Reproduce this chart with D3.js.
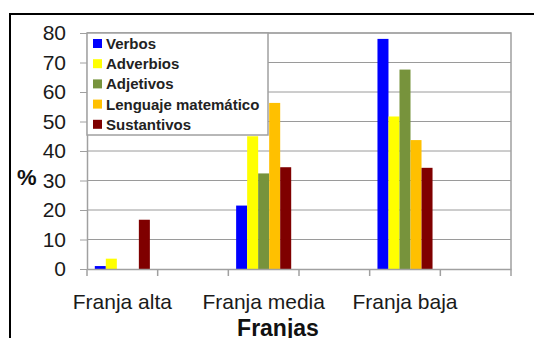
<!DOCTYPE html>
<html>
<head>
<meta charset="utf-8">
<script src="https://cdn.jsdelivr.net/npm/d3@7"></script>
<style>
  body { margin: 0; background: #fff; }
  svg { display: block; font-family: "Liberation Sans", Arial, sans-serif; }
</style>
</head>
<body>
<svg id="chart" width="534" height="338"></svg>
<script>
// categories (empty slots are blank columns in the original)
var franjas = ["Franja alta", "", "Franja media", " ", "Franja baja", "  "];
var series = ["Verbos", "Adverbios", "Adjetivos", "Lenguaje matemático", "Sustantivos"];
var colors = ["#0000ff", "#ffff00", "#77933c", "#ffc000", "#7f0000"];

var verbos      = [1,   null, 21.5, null, 78,   null];
var adverbios   = [3.5, null, 45,   null, 51.7, null];
var adjetivos   = [0,   null, 32.4, null, 67.6, null];
var lenguaje    = [0,   null, 56.3, null, 43.7, null];
var sustantivos = [16.7, null, 34.5, null, 34.3, null];
var yTicks = [0, 10, 20, 30, 40, 50, 60, 70, 80];

var values = [verbos, adverbios, adjetivos, lenguaje, sustantivos];

var svg = d3.select("#chart");
var plotL = 87, plotR = 511, plotT = 33, plotB = 269;

// outer frame
svg.append("rect")
	.attr("x", 10).attr("y", 14)
	.attr("width", 540).attr("height", 340)
	.attr("fill", "none").attr("stroke", "#000").attr("stroke-width", 2);

var x0 = d3.scaleBand().domain(franjas).range([plotL, plotR]).padding(0);
var x1 = d3.scaleBand().domain(series).range([7.8, x0.bandwidth() - 7.8]).padding(0);
var y = d3.scaleLinear().domain([0, 80]).range([plotB, plotT]);

// gridlines
svg.append("g")
	.selectAll("line")
	.data(yTicks.filter(function(d) { return d > 0; }))
	.enter().append("line")
		.attr("x1", plotL).attr("x2", plotR)
		.attr("y1", function(d) { return y(d); })
		.attr("y2", function(d) { return y(d); })
		.attr("stroke", "#9a9a9a").attr("stroke-width", 1);

// plot area frame (top + right)
svg.append("path")
	.attr("d", "M" + plotL + "," + plotT + "H" + plotR + "V" + plotB)
	.attr("fill", "none").attr("stroke", "#a0a0a0").attr("stroke-width", 1.5);

// bars
var groups = svg.append("g")
	.selectAll("g")
	.data(series)
	.enter().append("g")
		.attr("fill", function(d, i) { return colors[i]; });

groups.selectAll("rect")
	.data(function(s, i) {
		return franjas.map(function(f, j) { return {f: f, s: s, v: values[i][j]}; })
			.filter(function(d) { return d.v != null && d.v > 0; });
	})
	.enter().append("rect")
		.attr("x", function(d) { return x0(d.f) + x1(d.s); })
		.attr("width", x1.bandwidth())
		.attr("y", function(d) { return y(d.v); })
		.attr("height", function(d) { return y(0) - y(d.v); });

// y axis
var yAxis = svg.append("g")
	.attr("transform", "translate(" + plotL + ",0)")
	.call(d3.axisLeft(y).tickValues(yTicks).tickSize(7).tickSizeOuter(0).tickPadding(14));
yAxis.select(".domain").attr("stroke", "#a0a0a0").attr("stroke-width", 1.5);
yAxis.selectAll(".tick line").attr("stroke", "#a0a0a0");
yAxis.selectAll("text")
	.attr("font-size", 21).attr("fill", "#1a1a1a")
	.attr("font-family", "Liberation Sans, Arial, sans-serif");

// x axis
var xAxis = svg.append("g")
	.attr("transform", "translate(0," + plotB + ")")
	.call(d3.axisBottom(x0).tickSize(0).tickPadding(25));
xAxis.select(".domain").attr("stroke", "#a0a0a0").attr("stroke-width", 1.5);
xAxis.selectAll("text")
	.attr("font-size", 21).attr("fill", "#1a1a1a")
	.attr("font-family", "Liberation Sans, Arial, sans-serif");

// tick marks on band boundaries
var bounds = franjas.map(function(f) { return x0(f); }).concat([plotR]);
svg.append("g")
	.selectAll("line")
	.data(bounds)
	.enter().append("line")
		.attr("x1", function(d) { return d; }).attr("x2", function(d) { return d; })
		.attr("y1", plotB).attr("y2", plotB + 7)
		.attr("stroke", "#a0a0a0").attr("stroke-width", 1.5);

// axis titles
svg.append("text")
	.attr("x", 17).attr("y", 185)
	.attr("font-size", 22).attr("font-weight", "bold").attr("fill", "#111")
	.text("%");

svg.append("text")
	.attr("x", 278).attr("y", 336)
	.attr("text-anchor", "middle")
	.attr("font-size", 23).attr("font-weight", "bold").attr("fill", "#111")
	.text("Franjas");

// legend
var legend = svg.append("g").attr("transform", "translate(" + plotL + "," + plotT + ")");
legend.append("rect")
	.attr("width", 181).attr("height", 102)
	.attr("fill", "#fff").attr("stroke", "#a0a0a0").attr("stroke-width", 1.5);

var items = legend.selectAll("g.item")
	.data(series)
	.enter().append("g")
		.attr("class", "item")
		.attr("transform", function(d, i) { return "translate(0," + (10.5 + i * 20.2) + ")"; });

items.append("rect")
	.attr("x", 6).attr("y", -4.5)
	.attr("width", 9).attr("height", 9)
	.attr("fill", function(d, i) { return colors[i]; });

items.append("text")
	.attr("x", 19).attr("y", 0)
	.attr("dy", "0.36em")
	.attr("font-size", 15).attr("font-weight", "bold").attr("fill", "#222")
	.text(function(d) { return d; });
</script>
</body>
</html>
